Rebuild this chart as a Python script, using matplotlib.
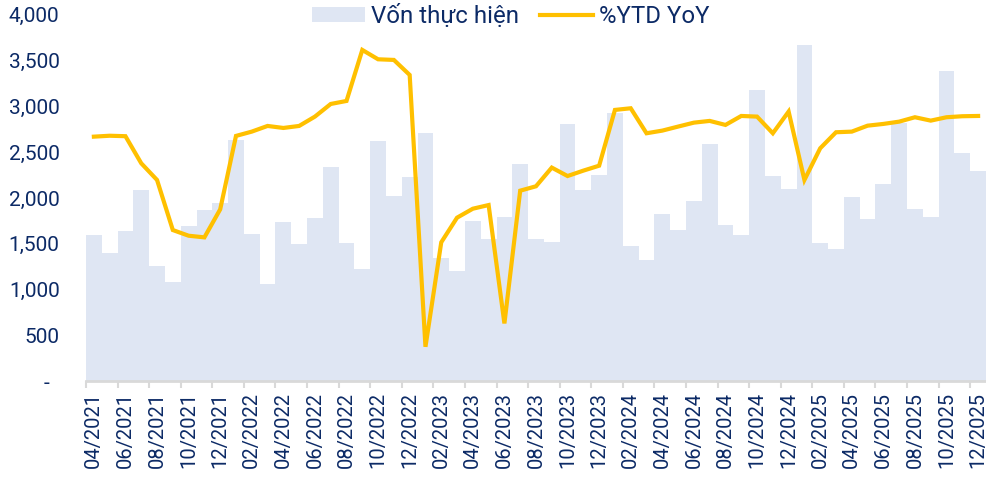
import numpy as np
import matplotlib
matplotlib.use("Agg")
import matplotlib.pyplot as plt
from matplotlib.ticker import FuncFormatter, FixedLocator

plt.rcParams['font.family'] = ['Roboto', 'DejaVu Sans']

# Monthly data 04/2021 - 12/2025
months = []
for y in range(2021, 2026):
    for m in range(1, 13):
        if y == 2021 and m < 4:
            continue
        months.append("%02d/%d" % (m, y))

von_thuc_hien = [
    1596, 1395, 1645, 2087, 1257, 1078, 1698, 1865, 1949,           # 2021
    2634, 1610, 1064, 1738, 1500, 1785, 2342, 1505, 1228, 2623, 2022, 2226,  # 2022
    2710, 1348, 1199, 1749, 1548, 1796, 2368, 1555, 1519, 2809, 2084, 2251,  # 2023
    2926, 1479, 1322, 1829, 1650, 1967, 2587, 1705, 1596, 3180, 2240, 2098,  # 2024
    3669, 1505, 1439, 2011, 1774, 2156, 2823, 1877, 1796, 3391, 2495, 2295,  # 2025
]

ytd_yoy = [
    2670, 2680, 2675, 2379, 2197, 1650, 1588, 1570, 1876,
    2678, 2725, 2787, 2765, 2787, 2889, 3027, 3060, 3617, 3515, 3508, 3344,
    375, 1516, 1785, 1883, 1923, 630, 2080, 2128, 2332, 2240, 2299, 2353,
    2962, 2980, 2707, 2736, 2780, 2823, 2842, 2798, 2896, 2889, 2707, 2944,
    2197, 2543, 2718, 2725, 2790, 2809, 2834, 2882, 2845, 2882, 2893, 2896,
]

navy = '#0C2A66'
bar_color = '#DFE6F3'
line_color = '#FFC000'

fig = plt.figure(figsize=(9.86, 4.8), dpi=100)
ax = fig.add_axes([0.0872, 0.206, 0.9128, 0.763])

x = np.arange(len(months))
bars = ax.bar(x, von_thuc_hien, width=1.0, color=bar_color, label='Vốn thực hiện', zorder=1)
line, = ax.plot(x, ytd_yoy, color=line_color, lw=3, label='%YTD YoY', zorder=3,
                solid_joinstyle='miter')

ax.set_xlim(-0.5, len(months) - 0.5)
ax.set_ylim(0, 4000)
ax.set_yticks(np.arange(0, 4001, 500))
ax.yaxis.set_major_formatter(FuncFormatter(lambda v, p: '-  ' if v == 0 else '{:,.0f}'.format(v)))
ax.tick_params(axis='y', length=0, pad=19, labelsize=15, labelcolor=navy)

# ticks at category boundaries, labels at category centres
ax.xaxis.set_major_locator(FixedLocator(np.arange(-0.5, len(months), 2)))
ax.xaxis.set_major_formatter(FuncFormatter(lambda v, p: ''))
ax.xaxis.set_minor_locator(FixedLocator(x[::2]))
ax.set_xticklabels([months[i] for i in x[::2]], minor=True, rotation=90)
ax.tick_params(axis='x', which='major', length=5, width=1.5, color='#D9D9D9')
ax.tick_params(axis='x', which='minor', length=0, pad=8, labelsize=14.5, labelcolor=navy)

for s in ['top', 'right', 'left']:
    ax.spines[s].set_visible(False)
ax.spines['bottom'].set_color('#D9D9D9')
ax.spines['bottom'].set_linewidth(2)

leg = fig.legend([bars, line], ['Vốn thực hiện', '%YTD YoY'],
                 loc='center', bbox_to_anchor=(0.518, 0.967), ncol=2, frameon=False,
                 fontsize=17.3, handlelength=2.2, handleheight=0.6,
                 handletextpad=0.25, columnspacing=0.87)
for t in leg.get_texts():
    t.set_color(navy)

fig.savefig('out.png', dpi=100)
